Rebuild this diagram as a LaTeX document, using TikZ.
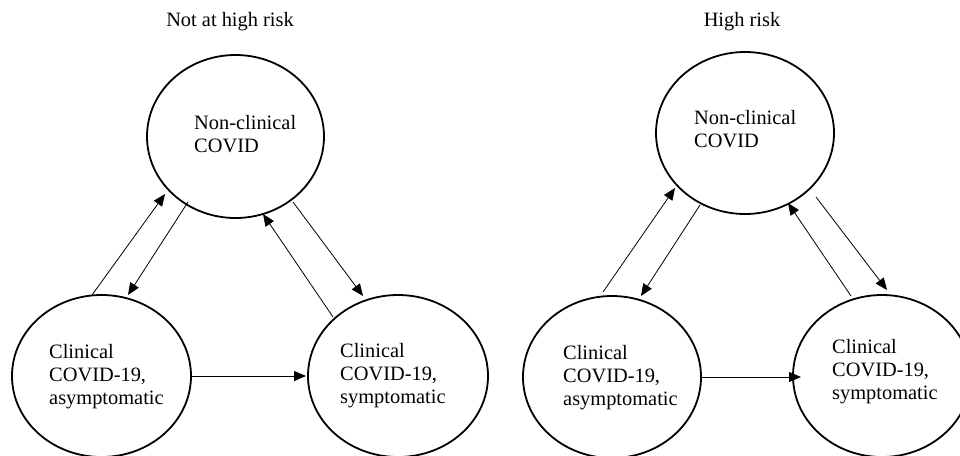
\documentclass[tikz,border=0pt]{standalone}
\usepackage{fontspec}
\setmainfont{Liberation Serif}
\usetikzlibrary{shapes.geometric,arrows.meta}
\tikzset{
  state/.style={draw, ellipse, line width=1.8pt, inner sep=0pt},
  lbl/.style={anchor=north west, inner sep=0pt, align=left, font=\fontsize{20.4}{23}\selectfont},
  ttl/.style={anchor=base, inner sep=0pt, font=\fontsize{20.4}{23}\selectfont},
  arr/.style={line width=0.8pt, -{Triangle[length=12pt,width=10pt]}}
}
\begin{document}
\begin{tikzpicture}[x=1pt,y=-1pt]
\useasboundingbox (0,0) rectangle (960,455);
% ---------- left panel ----------
\node[ttl] (t1) at (230,27) {Not at high risk};
\node[state, minimum width=177pt, minimum height=163pt] (T1) at (235.5,136.5) {};
\node[state, minimum width=179pt, minimum height=162pt] (BL1) at (101.5,376) {};
\node[state, minimum width=180pt, minimum height=162pt] (BR1) at (398,376) {};
\node[lbl] (T1t) at (194,113) {\strut Non-clinical\\COVID};
\node[lbl] (BL1t) at (49,342) {\strut Clinical\\COVID-19,\\asymptomatic};
\node[lbl] (BR1t) at (340,341) {\strut Clinical\\COVID-19,\\symptomatic};
\coordinate (a1s) at (92,295);  \coordinate (a1e) at (165,194);
\coordinate (a2s) at (188,202); \coordinate (a2e) at (128,295);
\coordinate (a3s) at (333,317); \coordinate (a3e) at (263,214);
\coordinate (a4s) at (293,202); \coordinate (a4e) at (363,296);
\coordinate (h1e) at (306,376);
\draw[arr] (a1s) -- (a1e);
\draw[arr] (a2s) -- (a2e);
\draw[arr] (a3s) -- (a3e);
\draw[arr] (a4s) -- (a4e);
\draw[arr] (BL1.east) -- (h1e);
% ---------- right panel ----------
\node[ttl] (t2) at (742,27) {High risk};
\node[state, minimum width=178pt, minimum height=162pt] (T2) at (745,133) {};
\node[state, minimum width=178pt, minimum height=162pt] (BL2) at (612,377) {};
\node[state, minimum width=178pt, minimum height=162pt] (BR2) at (882,376) {};
\node[lbl] (T2t) at (694,108) {\strut Non-clinical\\COVID};
\node[lbl] (BL2t) at (563,343) {\strut Clinical\\COVID-19,\\asymptomatic};
\node[lbl] (BR2t) at (832,337) {\strut Clinical\\COVID-19,\\symptomatic};
\coordinate (b1s) at (603,292); \coordinate (b1e) at (675,188);
\coordinate (b2s) at (700,205); \coordinate (b2e) at (641,296);
\coordinate (b3s) at (851,296); \coordinate (b3e) at (788,203);
\coordinate (b4s) at (816,197); \coordinate (b4e) at (887,290);
\coordinate (h2e) at (801,377);
\draw[arr] (b1s) -- (b1e);
\draw[arr] (b2s) -- (b2e);
\draw[arr] (b3s) -- (b3e);
\draw[arr] (b4s) -- (b4e);
\draw[arr] (BL2.east) -- (h2e);
\end{tikzpicture}
\end{document}
